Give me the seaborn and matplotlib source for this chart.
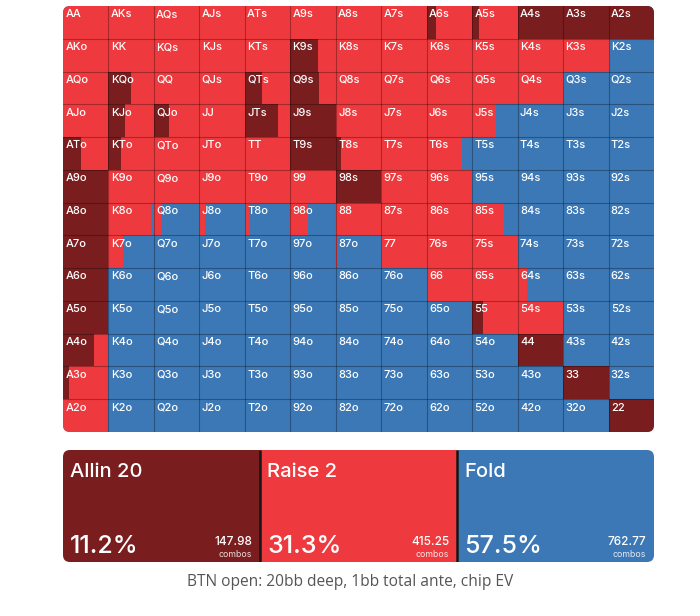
import numpy as np
import matplotlib
matplotlib.use("Agg")
import matplotlib.pyplot as plt
import seaborn as sns
from matplotlib.patches import FancyBboxPatch
from matplotlib.colors import ListedColormap

ranks = list("AKQJT98765432")

# fraction of each hand played as All-in (rows = first rank, cols = second rank)
allin = [
    [0, 0, 0, 0, 0, 0, 0, 0, 0.20, 0.15, 1, 1, 1],
    [0, 0, 0, 0, 0, 0.60, 0, 0, 0, 0, 0, 0, 0],
    [0, 0.50, 0, 0, 0.37, 0.63, 0, 0, 0, 0, 0, 0, 0],
    [0, 0.37, 0.33, 0, 0.73, 1, 0, 0, 0, 0, 0, 0, 0],
    [0.40, 0.28, 0, 0, 0, 1, 0.12, 0, 0, 0, 0, 0, 0],
    [1, 0, 0, 0, 0, 0, 1, 0, 0, 0, 0, 0, 0],
    [1, 0, 0, 0, 0, 0, 0, 0, 0, 0, 0, 0, 0],
    [1, 0, 0, 0, 0, 0, 0, 0, 0, 0, 0, 0, 0],
    [1, 0, 0, 0, 0, 0, 0, 0, 0, 0, 0, 0, 0],
    [1, 0, 0, 0, 0, 0, 0, 0, 0, 0.24, 0, 0, 0],
    [0.69, 0, 0, 0, 0, 0, 0, 0, 0, 0, 1, 0, 0],
    [0.13, 0, 0, 0, 0, 0, 0, 0, 0, 0, 0, 1, 0],
    [0, 0, 0, 0, 0, 0, 0, 0, 0, 0, 0, 0, 1],
]

# fraction of each hand played as Raise 2
raise2 = [
    [1, 1, 1, 1, 1, 1, 1, 1, 0.80, 0.85, 0, 0, 0],
    [1, 1, 1, 1, 1, 0.40, 1, 1, 1, 1, 1, 1, 0],
    [1, 0.50, 1, 1, 0.63, 0.37, 1, 1, 1, 1, 1, 0, 0],
    [1, 0.63, 0.67, 1, 0.27, 0, 1, 1, 1, 0.53, 0, 0, 0],
    [0.60, 0.72, 1, 1, 1, 0, 0.88, 1, 0.78, 0, 0, 0, 0],
    [0, 1, 1, 1, 1, 1, 0, 1, 1, 0, 0, 0, 0],
    [0, 0.94, 0.16, 0.13, 0.10, 0.40, 1, 1, 1, 0.70, 0, 0, 0],
    [0, 0.32, 0, 0, 0, 0, 0.03, 1, 1, 1, 0, 0, 0],
    [0, 0, 0, 0, 0, 0, 0, 0, 1, 1, 0.20, 0, 0],
    [0, 0, 0, 0, 0, 0, 0, 0, 0, 0.76, 1, 0, 0],
    [0.31, 0, 0, 0, 0, 0, 0, 0, 0, 0, 0, 0, 0],
    [0.87, 0, 0, 0, 0, 0, 0, 0, 0, 0, 0, 0, 0],
    [1, 0, 0, 0, 0, 0, 0, 0, 0, 0, 0, 0, 0],
]

actions = ["Allin 20", "Raise 2", "Fold"]
percents = ["11.2%", "31.3%", "57.5%"]
combos = ["147.98", "415.25", "762.77"]
caption = "BTN open: 20bb deep, 1bb total ante, chip EV"

DARK = "#7a1d1f"
RED = "#ee3a3e"
BLUE = "#3b78b5"
colors = [DARK, RED, BLUE]

sns.set_theme(style="white")
plt.rcParams["font.family"] = ["Inter", "DejaVu Sans"]

fig = plt.figure(figsize=(7, 6.16), dpi=100)
fig.patch.set_facecolor("white")

# ---------------- range grid ----------------
gl, gb, gw, gh = 63, 616 - 432, 591, 426
ax = fig.add_axes([gl / 700, gb / 616, gw / 700, gh / 616])
A = np.array(allin, dtype=float)
R = np.array(raise2, dtype=float)
F = np.clip(1 - A - R, 0, 1)

sns.heatmap(np.zeros((13, 13)), cmap=ListedColormap([BLUE]), cbar=False, ax=ax,
            xticklabels=False, yticklabels=False)
rows = np.arange(13) + 0.5
for j in range(13):
    ax.barh(rows, A[:, j], left=j, height=1, color=DARK, linewidth=0)
    ax.barh(rows, R[:, j], left=j + A[:, j], height=1, color=RED, linewidth=0)
    ax.barh(rows, F[:, j], left=j + A[:, j] + R[:, j], height=1, color=BLUE, linewidth=0)
for k in range(1, 13):
    ax.axvline(k, color="black", alpha=0.3, lw=0.8, zorder=5)
    ax.axhline(k, color="black", alpha=0.3, lw=0.8, zorder=5)
for i in range(13):
    for j in range(13):
        if i == j:
            lab = ranks[i] + ranks[j]
        elif j > i:
            lab = ranks[i] + ranks[j] + "s"
        else:
            lab = ranks[j] + ranks[i] + "o"
        ax.text(j + 0.05, i + 0.1, lab, color="white", fontsize=8,
                fontweight="medium", ha="left", va="top", zorder=6)
ax.set_xlim(0, 13)
ax.set_ylim(13, 0)
ax.axis("off")
clip1 = FancyBboxPatch((gl / 100, gb / 100), gw / 100, gh / 100,
                       boxstyle="round,pad=0,rounding_size=0.07",
                       transform=fig.dpi_scale_trans, facecolor="none", edgecolor="none")
for art in ax.get_children():
    try:
        art.set_clip_path(clip1)
    except Exception:
        pass

# ---------------- summary boxes ----------------
sl, sb, sw, sh = 63, 616 - 562, 591, 112
ax2 = fig.add_axes([sl / 700, sb / 616, sw / 700, sh / 616])
ax2.bar(np.arange(3) + 0.5, [1, 1, 1], width=1, color=colors, linewidth=0)
ax2.vlines([1, 2], 0, 1, color="#151515", lw=1.8, zorder=3)
ax2.set_xlim(0, 3)
ax2.set_ylim(0, 1)
ax2.axis("off")
clip2 = FancyBboxPatch((sl / 100, sb / 100), sw / 100, sh / 100,
                       boxstyle="round,pad=0,rounding_size=0.07",
                       transform=fig.dpi_scale_trans, facecolor="none", edgecolor="none")
for art in ax2.get_children():
    try:
        art.set_clip_path(clip2)
    except Exception:
        pass
for k in range(3):
    ax2.text(k + 0.036, 0.76, actions[k], color="white", fontsize=14.5,
             fontweight="medium", ha="left", va="baseline", zorder=4)
    ax2.text(k + 0.036, 0.08, percents[k], color="white", fontsize=18,
             fontweight="medium", ha="left", va="baseline", zorder=4)
    ax2.text(k + 1 - 0.04, 0.15, combos[k], color="white", fontsize=8.5,
             fontweight="medium", ha="right", va="baseline", zorder=4)
    ax2.text(k + 1 - 0.04, 0.045, "combos", color="white", alpha=0.85, fontsize=6.3,
             ha="right", va="baseline", zorder=4)

fig.text(0.5, 1 - 582 / 616, caption, ha="center", va="center", fontsize=11.2,
         color="#555555", family=["Open Sans", "DejaVu Sans"])

fig.savefig("out.png", dpi=100)
